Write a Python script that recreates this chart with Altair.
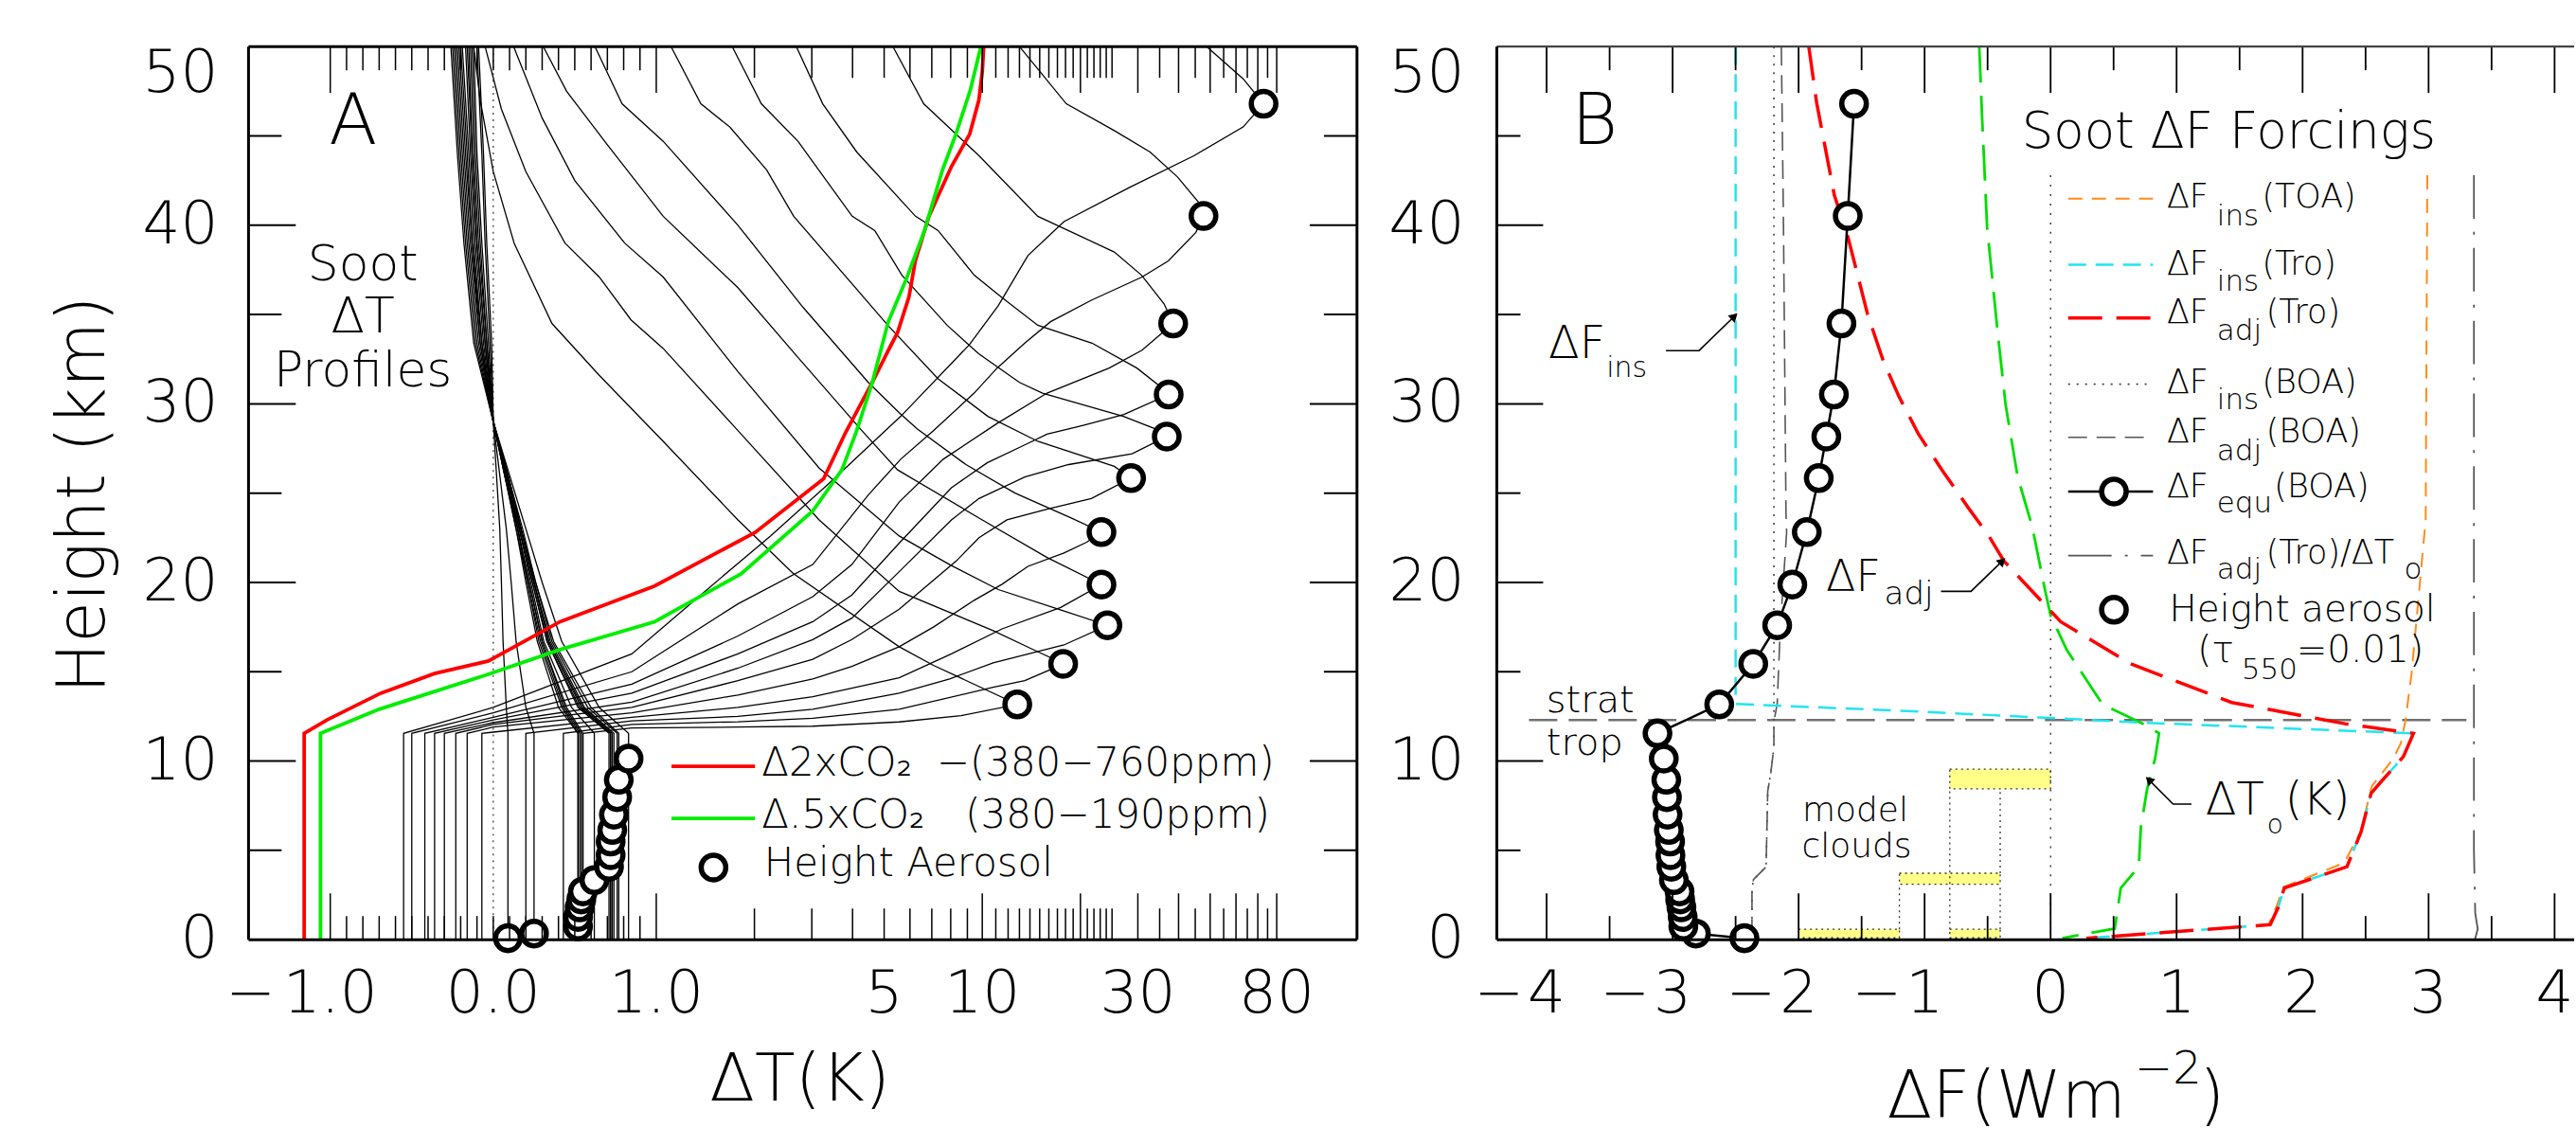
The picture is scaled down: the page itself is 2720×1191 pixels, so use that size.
import altair as alt
import pandas as pd

FONT = "DejaVu Sans"
FW = 200

# =============== Panel A : soot ΔT profiles (ΔT in K, height in km) ===============
# profiles for soot layers above the tropopause: (ΔT values, heights)
HIGH_PROFILES = {
    "46.8": ([-0.55, -0.55, 0, 0.85, 1.41, 2.24, 3.51, 5.62, 9.12, 11.2, 13.8, 17.8, 28.2, 44.7, 63.1, 72.9, 63.1, 48.8],
             [0, 11.55, 13.0, 16.0, 19.5, 22.6, 25.8, 29.3, 33.3, 35.5, 38.3, 40.2, 42.1, 43.9, 45.5, 46.8, 48.2, 50]),
    "40.5": ([-0.5, -0.5, 0, 0.85, 1.78, 3.02, 4.47, 5.62, 7.08, 9.44, 11.1, 13.5, 16.2, 21.6, 30.9, 37.2, 45.2, 47.7, 46.0, 39.7, 32.7, 25.4, 18.1, 13.0],
             [0, 11.55, 12.7, 15.0, 18.8, 21.0, 24.9, 26.9, 28.5, 30.6, 32.0, 33.4, 34.6, 35.8, 37.1, 38.0, 39.6, 40.52, 41.3, 42.7, 44.1, 45.3, 46.8, 50]),
    "34.5": ([-0.42, -0.42, 0, 0.85, 1.78, 3.02, 3.98, 5.56, 7.59, 11.1, 15.8, 24.5, 30.9, 38.5, 36.1, 30.8, 25.4, 14.8, 9.76, 6.61, 5.32],
             [0, 11.55, 12.45, 14.3, 17.0, 19.2, 21.0, 24.5, 26.9, 28.9, 30.6, 32.0, 33.0, 34.5, 35.6, 37.2, 38.5, 40.5, 43.9, 46.8, 50]),
    "30.5": ([-0.36, -0.36, 0, 0.85, 1.78, 3.02, 3.98, 5.56, 8.04, 10.35, 13.5, 15.8, 20.4, 27.2, 37.3, 36.1, 29.8, 21.7, 14.8, 11.4, 9.45, 7.32, 6.24, 4.12, 3.24, 2.69],
             [0, 11.55, 12.3, 13.8, 16.0, 17.8, 19.3, 22.2, 25.3, 26.7, 27.7, 28.3, 28.8, 29.4, 30.52, 30.8, 32.0, 33.4, 34.4, 36.0, 37.2, 39.7, 40.5, 44.1, 46.8, 50]),
    "28.2": ([-0.3, -0.3, 0, 0.85, 1.78, 3.02, 3.98, 5.56, 8.04, 9.77, 13.5, 18.4, 28.8, 36.8, 35.0, 27.1, 15.3, 13.0, 9.75, 7.8, 5.67, 4.68, 3.99, 2.72, 2.1, 1.71],
             [0, 11.55, 12.15, 13.3, 15.2, 16.8, 18.0, 20.6, 23.5, 24.7, 25.9, 26.6, 27.2, 28.17, 28.5, 29.3, 30.6, 31.2, 32.8, 34.4, 37.2, 39.7, 40.5, 44.7, 46.8, 50]),
    "25.8": ([-0.23, -0.23, 0, 0.85, 1.78, 3.02, 3.98, 5.56, 8.32, 9.77, 11.9, 15.8, 21.6, 28.6, 25.4, 14.8, 10.4, 7.32, 5.13, 2.64, 2.18, 1.68, 1.37, 1.11],
             [0, 11.55, 12.05, 13.0, 14.5, 15.7, 16.8, 18.5, 21.2, 22.5, 23.5, 24.1, 24.7, 25.84, 26.5, 27.9, 29.3, 31.4, 34.4, 40.5, 43.1, 45.5, 46.8, 50]),
    "22.8": ([-0.16, -0.16, 0, 0.85, 1.78, 3.02, 3.98, 5.56, 7.08, 9.44, 11.5, 13.8, 17.8, 20.9, 23.2, 18.8, 12.6, 8.91, 6.31, 5.56, 4.47, 2.82, 1.78, 1.05, 0.79, 0.624],
             [0, 11.55, 11.9, 12.7, 13.7, 14.6, 15.3, 16.4, 17.5, 19.0, 19.9, 20.9, 21.65, 22.25, 22.82, 23.6, 25.0, 26.6, 28.6, 29.5, 31.2, 35.4, 40.0, 44.7, 46.8, 50]),
    "19.9": ([-0.07, -0.07, 0, 0.85, 1.78, 3.02, 5.56, 8.04, 11.5, 17.4, 23.2, 15.8, 10, 5.5, 4.27, 2.72, 1.78, 1.05, 0.7, 0.45, 0.307],
             [0, 11.55, 11.62, 12.45, 13.0, 13.6, 14.66, 16.0, 17.4, 18.6, 19.88, 21.4, 23.5, 26.3, 28.5, 32.6, 36.5, 40.5, 44.5, 47.5, 50]),
    "17.6": ([0.2, 0.2, 0.85, 1.78, 3.02, 5.56, 7.94, 10.8, 17.8, 24.2, 17.8, 11.2, 7.94, 5.56, 3.16, 1.78, 1.05, 0.806, 0.5, 0.3, 0.125],
             [0, 11.55, 12.25, 12.5, 12.9, 13.8, 14.6, 15.5, 16.5, 17.6, 18.4, 19.6, 21.0, 22.6, 26.4, 31.8, 37.1, 39.0, 42.5, 46, 50]),
    "15.4": ([0.43, 0.43, 0.85, 1.78, 3.02, 5.56, 10.8, 13.5, 17.8, 14.1, 10.8, 5.56, 3.16, 1.78, 1.05, 0.845, 0.65, 0.44, 0.2, 0.05, -0.05],
             [0, 11.55, 12.05, 12.2, 12.4, 12.9, 14.13, 14.5, 15.44, 16.3, 17.3, 19.5, 23.5, 28.5, 33.1, 34.7, 37.1, 39, 43, 46.5, 50]),
    "13.2": ([0.55, 0.55, 0.85, 1.78, 3.02, 5.56, 8.61, 12.8, 7.08, 5.56, 2.63, 1.78, 1.05, 0.65, 0.36, 0.128, 0.0, -0.08, -0.12],
             [0, 11.55, 11.85, 11.9, 11.95, 12.19, 12.54, 13.17, 15.36, 16.4, 20.5, 23.5, 27.9, 31.6, 34.5, 39, 43, 47, 50]),
}

# profiles for soot layers inside the troposphere, all given at these heights
LOW_Z = [0, 11.55, 13.0, 16.7, 20.0, 23.0, 26.0, 29.0, 33.4, 39.0, 44.0, 50.0]
LOW_PROFILES = {
    "0.08": [0.09, 0.09, 0.08, 0.06, 0.05, 0.04, 0.02, 0.0, -0.01, -0.04, -0.06, -0.09],
    "0.34": [0.25, 0.25, 0.2, 0.14, 0.11, 0.08, 0.04, 0.0, -0.02, -0.05, -0.07, -0.1],
    "0.74": [0.52, 0.52, 0.4, 0.27, 0.2, 0.14, 0.07, 0.0, -0.03, -0.07, -0.1, -0.12],
    "1.27": [0.52, 0.52, 0.42, 0.28, 0.21, 0.14, 0.07, 0.0, -0.04, -0.08, -0.11, -0.13],
    "1.81": [0.53, 0.53, 0.43, 0.29, 0.21, 0.15, 0.07, 0.0, -0.04, -0.09, -0.12, -0.14],
    "2.25": [0.54, 0.54, 0.44, 0.3, 0.22, 0.15, 0.08, 0.0, -0.05, -0.1, -0.13, -0.15],
    "2.7": [0.55, 0.55, 0.45, 0.3, 0.22, 0.15, 0.08, 0.0, -0.05, -0.1, -0.13, -0.16],
    "3.33": [0.62, 0.62, 0.48, 0.31, 0.23, 0.16, 0.08, 0.0, -0.06, -0.11, -0.14, -0.17],
    "4.08": [0.71, 0.71, 0.52, 0.33, 0.24, 0.16, 0.08, 0.0, -0.07, -0.12, -0.15, -0.19],
    "4.73": [0.72, 0.72, 0.53, 0.33, 0.24, 0.16, 0.08, 0.0, -0.07, -0.13, -0.16, -0.2],
    "5.49": [0.72, 0.72, 0.54, 0.34, 0.25, 0.17, 0.09, 0.0, -0.08, -0.13, -0.17, -0.21],
    "6.14": [0.73, 0.73, 0.55, 0.34, 0.25, 0.17, 0.09, 0.0, -0.08, -0.14, -0.18, -0.22],
    "7.0": [0.74, 0.74, 0.56, 0.35, 0.25, 0.17, 0.09, 0.0, -0.09, -0.15, -0.19, -0.23],
    "7.98": [0.76, 0.76, 0.58, 0.36, 0.26, 0.17, 0.09, 0.0, -0.1, -0.16, -0.2, -0.24],
    "8.95": [0.77, 0.77, 0.6, 0.37, 0.26, 0.18, 0.09, 0.0, -0.11, -0.17, -0.21, -0.25],
    "10.14": [0.83, 0.83, 0.65, 0.42, 0.3, 0.2, 0.1, 0.0, -0.12, -0.18, -0.22, -0.26],
}

A_CIRCLE_Z = [0.08, 0.34, 0.74, 1.27, 1.81, 2.25, 2.7, 3.33, 4.08, 4.73, 5.49, 6.14, 7.0, 7.98, 8.95, 10.14,
              13.17, 15.44, 17.6, 19.88, 22.82, 25.84, 28.17, 30.52, 34.5, 40.52, 46.8]
A_CIRCLE_T = [0.09, 0.25, 0.52, 0.52, 0.53, 0.54, 0.55, 0.62, 0.71, 0.72, 0.72, 0.73, 0.74, 0.76, 0.77, 0.83,
              12.8, 17.7, 24.2, 23.2, 23.2, 28.6, 36.8, 37.3, 38.5, 47.7, 72.9]

CO2X2_T = [-1.16, -1.16, -1.02, -0.69, -0.36, -0.03, 0.41, 0.99, 2.01, 3.26, 3.81, 4.6, 5.15, 5.5, 5.96, 6.23, 6.86, 8.05, 9.15, 9.76, 10.0, 10.1]
CO2X2_Z = [0, 11.55, 12.3, 13.8, 14.9, 15.6, 17.8, 19.8, 22.8, 25.8, 28.4, 31.2, 33.0, 34.0, 36.0, 38.0, 40.5, 43.3, 45.1, 47.0, 48.6, 50]
CO2HALF_T = [-1.06, -1.06, -0.7, -0.04, 0.41, 0.99, 1.82, 3.02, 3.71, 4.1, 4.6, 5.15, 5.85, 6.65, 7.55, 8.3, 9.2, 9.9]
CO2HALF_Z = [0, 11.55, 12.9, 14.83, 16.24, 17.8, 20.48, 24.0, 26.3, 28.4, 31.2, 34.6, 37.0, 39.7, 43.1, 45.1, 47.6, 50]

A_TICK_LONG = [-1.0, 1.0, 10, 20, 30, 40, 50, 60, 70, 80]
A_TICK_MID = [2, 3, 4, 5, 6, 7, 8, 9, 11, 12, 13, 14, 15, 16, 17, 18, 19, 21, 22, 23, 24, 25, 35, 45, 55, 65, 75]
A_TICK_SHORT = [-0.9, -0.8, -0.7, -0.6, -0.5, -0.4, -0.3, -0.2, -0.1, 0.0, 0.1, 0.2, 0.3, 0.4, 0.5, 0.6, 0.7, 0.8, 0.9]
A_LABEL_T = [-1.0, 0.0, 1.0, 5, 10, 30, 80]
A_LABEL_TXT = ["1.0", "0.0", "1.0", "5", "10", "30", "80"]

Y_MAJOR = [10, 20, 30, 40]
Y_MINOR = [5, 15, 25, 35, 45]
Y_LABELS = [0, 10, 20, 30, 40]

# =============== Panel B : soot forcings (W/m2) vs aerosol height ===============
B_CIRCLE_Z = [0.08, 0.34, 0.74, 1.27, 1.81, 2.25, 2.7, 3.33, 4.08, 4.73, 5.49, 6.14, 7.0, 7.98, 8.95, 10.14,
              11.55, 13.17, 15.44, 17.6, 19.88, 22.82, 25.84, 28.17, 30.52, 34.5, 40.52, 46.8]
EQU_BOA_F = [-2.43, -2.815, -2.915, -2.92, -2.93, -2.94, -2.945, -2.99, -3.01, -3.017, -3.02, -3.03, -3.04, -3.045,
             -3.05, -3.07, -3.12, -2.63, -2.36, -2.17, -2.05, -1.935, -1.84, -1.78, -1.72, -1.66, -1.61, -1.56]

INS_TRO_F = [-2.5, -2.5, -1.145, 0.0, 0.733, 2.88, 2.80, 2.624, 2.544, 2.464, 2.352, 1.855, 1.807, 1.743, 0.284]
INS_TRO_Z = [50, 13.2, 12.8, 12.41, 12.15, 11.55, 10.25, 8.85, 8.2, 6.03, 4.08, 2.89, 1.81, 0.84, 0.08]
ADJ_TRO_F = [-1.919, -1.857, -1.717, -1.607, -1.452, -1.328, -1.203, -1.048, -0.862, -0.645, -0.495, -0.37, 0.08,
             0.637, 1.438, 2.336, 2.88, 2.80, 2.624, 2.544, 2.464, 2.352, 1.855, 1.807, 1.743, 0.284]
ADJ_TRO_Z = [50, 46.86, 41.7, 39.3, 35.0, 32.4, 30.4, 28.3, 26.3, 24.1, 22.66, 21.2, 17.8,
             15.44, 13.28, 12.09, 11.55, 10.25, 8.85, 8.2, 6.03, 4.08, 2.89, 1.81, 0.84, 0.08]
INS_TOA_F = [2.99, 2.977, 2.865, 2.817, 2.78, 2.72, 2.55, 2.46, 2.33, 1.85, 1.79, 1.73]
INS_TOA_Z = [42.8, 23.5, 14.9, 12.3, 11.0, 10.14, 8.6, 6.03, 4.3, 2.95, 1.81, 0.84]
DT0_K = [-0.566, -0.544, -0.504, -0.42, -0.357, -0.261, -0.145, -0.045, 0.0, 0.13, 0.413, 0.733, 0.861, 0.829,
         0.765, 0.716, 0.70, 0.557, 0.509, 0.092]
DT0_Z = [50, 46.1, 39.9, 34.0, 29.95, 25.9, 23.1, 19.6, 18.15, 16.2, 13.17, 12.09, 11.55, 10.14,
         8.4, 6.25, 4.08, 2.89, 0.62, 0.08]
INS_BOA_F = [-2.196, -2.196, -2.196, -2.22, -2.245, -2.258, -2.358, -2.37, -2.37]
INS_BOA_Z = [50, 13.2, 10.78, 9.37, 8.3, 4.07, 3.37, 2.84, 0.2]
ADJ_BOA_F = [-2.137, -2.12, -2.1, -2.095, -2.145, -2.17, -2.196, -2.196, -2.22, -2.245, -2.258, -2.358, -2.37, -2.37]
ADJ_BOA_Z = [50, 40, 23.9, 22.8, 17.5, 13.2, 12.2, 10.78, 9.37, 8.3, 4.07, 3.37, 2.84, 0.2]
RATIO_F = [3.36, 3.36, 3.37, 3.39, 3.37]
RATIO_Z = [42.8, 5.0, 1.5, 0.6, 0.05]

CLOUD_X1 = [-2.0, -0.8, -1.2, -0.8]
CLOUD_X2 = [-1.2, -0.4, -0.4, 0.0]
CLOUD_Z1 = [0.1, 0.1, 3.1, 8.45]
CLOUD_Z2 = [0.58, 0.58, 3.72, 9.54]
CLOUD_EDGE_F = [-1.2, -0.8, -0.4, -0.4]
CLOUD_EDGE_Z1 = [0.58, 0.58, 0.58, 3.72]
CLOUD_EDGE_Z2 = [3.1, 8.45, 3.1, 8.45]

TROPOPAUSE_Z = 12.3
B_TICK_LONG = [-4, -3, -2, -1, 0, 1, 2, 3, 4]
B_TICK_SHORT = [-3.5, -2.5, -1.5, -0.5, 0.5, 1.5, 2.5, 3.5]
B_LABEL_F = [-4, -3, -2, -1, 0, 1, 2, 3, 4]
B_LABEL_TXT = ["4", "3", "2", "1", "0", "1", "2", "3", "4"]

# ---------------- geometry ----------------
WA, HA = 1173, 945
UA0, UA1 = -1.5014, 5.2986
WB, HB = 1140, 945
FB0, FB1 = -4.395, 4.155
UEXPR = "datum.T <= 1 ? datum.T : 1 + 2 * log(datum.T) / LN10"
ONE = pd.DataFrame({"d": [0]})
RING = dict(shape="circle", filled=True, fill="white", stroke="black", strokeWidth=5.5, size=680, opacity=1)


def XA():
    return alt.X("u:Q", scale=alt.Scale(domain=[UA0, UA1], nice=False, zero=False), axis=None)


def XB():
    return alt.X("F:Q", scale=alt.Scale(domain=[FB0, FB1], nice=False, zero=False), axis=None)


def YZ():
    return alt.Y("z:Q", scale=alt.Scale(domain=[0, 50], nice=False, zero=False), axis=None)


def ptext(px, py, s, size, align="left", baseline="alphabetic", angle=None, color="black"):
    kw = dict(font=FONT, fontWeight=FW, fontSize=size, align=align, baseline=baseline, color=color, text=s)
    if angle is not None:
        kw["angle"] = angle
    return alt.Chart(ONE).mark_text(**kw).encode(x=alt.value(px), y=alt.value(py))


def prule(x1, x2, y1, y2, color="black", width=3, dash=None):
    kw = dict(color=color, strokeWidth=width)
    if dash:
        kw["strokeDash"] = dash
    return alt.Chart(ONE).mark_rule(**kw).encode(
        x=alt.value(x1), x2=alt.value(x2), y=alt.value(y1), y2=alt.value(y2))


def ring(px, py):
    return alt.Chart(ONE).mark_point(**RING).encode(x=alt.value(px), y=alt.value(py))


# ================= build panel A =================
rows = []
for name, (tt, zz) in HIGH_PROFILES.items():
    for i, (t, z) in enumerate(zip(tt, zz)):
        rows.append((name, i, t, z))
for name, tt in LOW_PROFILES.items():
    for i, (t, z) in enumerate(zip(tt, LOW_Z)):
        rows.append(("L" + name, i, t, z))
df_prof = pd.DataFrame(rows, columns=["pid", "i", "T", "z"])

layersA = []
layersA.append(alt.Chart(pd.DataFrame({"u": [0.0]})).mark_rule(
    color="#333333", strokeWidth=1.2, strokeDash=[2, 5]).encode(x=XA()))
layersA.append(alt.Chart(df_prof).transform_calculate(u=UEXPR).mark_line(
    color="black", strokeWidth=1.3).encode(x=XA(), y=YZ(), detail="pid:N", order="i:Q"))
for tt, zz, col in [(CO2X2_T, CO2X2_Z, "#ff0000"), (CO2HALF_T, CO2HALF_Z, "#00ee00")]:
    d = pd.DataFrame({"T": tt, "z": zz, "i": list(range(len(tt)))})
    layersA.append(alt.Chart(d).transform_calculate(u=UEXPR).mark_line(
        color=col, strokeWidth=3.8).encode(x=XA(), y=YZ(), order="i:Q"))
layersA.append(alt.Chart(pd.DataFrame({"T": A_CIRCLE_T, "z": A_CIRCLE_Z})).transform_calculate(u=UEXPR)
               .mark_point(**RING).encode(x=XA(), y=YZ()))

# inward ticks
for vals, ln in [(A_TICK_LONG, 49), (A_TICK_MID, 33), (A_TICK_SHORT, 25)]:
    d = pd.DataFrame({"T": vals})
    layersA.append(alt.Chart(d).transform_calculate(u=UEXPR).mark_rule(color="black", strokeWidth=1.5)
                   .encode(x=XA(), y=alt.value(HA), y2=alt.value(HA - ln)))
    layersA.append(alt.Chart(d).transform_calculate(u=UEXPR).mark_rule(color="black", strokeWidth=1.5)
                   .encode(x=XA(), y=alt.value(0), y2=alt.value(ln)))
for vals, ln in [(Y_MAJOR, 50), (Y_MINOR, 35)]:
    d = pd.DataFrame({"z": vals})
    layersA.append(alt.Chart(d).mark_rule(color="black", strokeWidth=2)
                   .encode(y=YZ(), x=alt.value(0), x2=alt.value(ln)))
    layersA.append(alt.Chart(d).mark_rule(color="black", strokeWidth=2)
                   .encode(y=YZ(), x=alt.value(WA), x2=alt.value(WA - ln)))
# frame
layersA += [prule(0, WA, 0, 0), prule(0, WA, HA, HA), prule(0, 0, 0, HA), prule(WA, WA, 0, HA)]

# tick labels
layersA.append(alt.Chart(pd.DataFrame({"T": A_LABEL_T, "t": A_LABEL_TXT})).transform_calculate(u=UEXPR)
               .mark_text(font=FONT, fontWeight=FW, fontSize=63, align="center", baseline="top")
               .encode(x=XA(), y=alt.value(HA + 27), text="t:N"))
layersA.append(alt.Chart(pd.DataFrame({"T": [-1.0], "t": ["−"]})).transform_calculate(u=UEXPR)
               .mark_text(font=FONT, fontWeight=FW, fontSize=63, align="right", baseline="top", dx=-58)
               .encode(x=XA(), y=alt.value(HA + 27), text="t:N"))
layersA.append(alt.Chart(pd.DataFrame({"z": Y_LABELS, "t": [str(v) for v in Y_LABELS]}))
               .mark_text(font=FONT, fontWeight=FW, fontSize=63, align="right", baseline="middle")
               .encode(y=YZ(), x=alt.value(-32), text="t:N"))
layersA.append(ptext(-32, -2, "50", 63, align="right", baseline="top"))

# titles and annotations
layersA += [
    ptext(488, 1115, "ΔT(K)", 70),
    ptext(-153, 474, "Height (km)", 71, align="center", angle=270),
    ptext(85, 103, "A", 75),
    ptext(121, 247, "Soot", 52, align="center"),
    ptext(121, 302, "ΔT", 52, align="center"),
    ptext(121, 360, "Profiles", 52, align="center"),
    # legend
    prule(447.6, 536, 761.5, 761.5, color="#ff0000", width=3.8),
    prule(447.6, 536, 816.7, 816.7, color="#00ee00", width=3.8),
    ring(492, 868.6),
    ptext(543, 771.7, "Δ2xCO₂", 42), ptext(728, 771.7, "−(380−760ppm)", 42),
    ptext(543, 826.9, "Δ.5xCO₂", 42), ptext(758.5, 826.9, "(380−190ppm)", 42),
    ptext(545.6, 878, "Height Aerosol", 42),
]
chartA = alt.layer(*layersA).properties(width=WA, height=HA)

# ================= build panel B =================
def fline(ff, zz, color, width, dash=None):
    d = pd.DataFrame({"F": ff, "z": zz, "i": list(range(len(ff)))})
    kw = dict(color=color, strokeWidth=width)
    if dash:
        kw["strokeDash"] = dash
    return alt.Chart(d).mark_line(**kw).encode(x=XB(), y=YZ(), order="i:Q")


layersB = []
layersB.append(alt.Chart(pd.DataFrame({"x1": CLOUD_X1, "x2": CLOUD_X2, "z1": CLOUD_Z1, "z2": CLOUD_Z2}))
               .mark_rect(fill="#ffff88", stroke="#333333", strokeWidth=1.3, strokeDash=[2, 4])
               .encode(x=alt.X("x1:Q", scale=alt.Scale(domain=[FB0, FB1], nice=False, zero=False), axis=None),
                       x2="x2:Q", y=alt.Y("z1:Q", scale=alt.Scale(domain=[0, 50], nice=False, zero=False), axis=None),
                       y2="z2:Q"))
layersB.append(alt.Chart(pd.DataFrame({"F": CLOUD_EDGE_F, "z": CLOUD_EDGE_Z1, "z2": CLOUD_EDGE_Z2}))
               .mark_rule(color="#333333", strokeWidth=1.3, strokeDash=[2, 4])
               .encode(x=XB(), y=YZ(), y2="z2:Q"))
layersB.append(fline([0, 0], [42.8, 0], "#333333", 1.4, [2, 8]))
layersB.append(alt.Chart(pd.DataFrame({"z": [TROPOPAUSE_Z], "F": [-4.14], "F2": [3.30]}))
               .mark_rule(color="#707070", strokeWidth=2.5, strokeDash=[30, 12])
               .encode(x=XB(), x2="F2:Q", y=YZ()))
layersB += [
    fline(INS_BOA_F, INS_BOA_Z, "#444444", 1.6, [2, 7]),
    fline(ADJ_BOA_F, ADJ_BOA_Z, "#555555", 1.6, [20, 10]),
    fline(RATIO_F, RATIO_Z, "#555555", 1.8, [46, 14, 3, 14]),
    fline(DT0_K, DT0_Z, "#00dd00", 2.8, [38, 14]),
    fline(INS_TOA_F, INS_TOA_Z, "#ff8c1a", 2.0, [15, 10]),
    fline(INS_TRO_F, INS_TRO_Z, "#22e5ee", 2.5, [19, 10]),
    fline(ADJ_TRO_F, ADJ_TRO_Z, "#ff0000", 3.5, [36, 15]),
    fline(EQU_BOA_F, B_CIRCLE_Z, "black", 2.5),
]
layersB.append(alt.Chart(pd.DataFrame({"F": EQU_BOA_F, "z": B_CIRCLE_Z}))
               .mark_point(**RING).encode(x=XB(), y=YZ()))

# arrows (data coordinates of the annotation leaders)
ARROWS = [([-3.053, -2.79, -2.51], [32.98, 32.98, 34.9], 46),
          ([-0.87, -0.632, -0.383], [19.5, 19.5, 21.2], 46),
          ([1.118, 0.973, 0.78], [7.59, 7.59, 8.95], 315)]
for ff, zz, ang in ARROWS:
    layersB.append(fline(ff, zz, "black", 1.6))
    layersB.append(alt.Chart(pd.DataFrame({"F": [ff[-1]], "z": [zz[-1]]}))
                   .mark_point(shape="triangle-up", filled=True, color="black", size=110, angle=ang, opacity=1)
                   .encode(x=XB(), y=YZ()))

# ticks
for vals, ln in [(B_TICK_LONG, 49), (B_TICK_SHORT, 25)]:
    d = pd.DataFrame({"F": vals})
    layersB.append(alt.Chart(d).mark_rule(color="black", strokeWidth=1.8)
                   .encode(x=XB(), y=alt.value(HB), y2=alt.value(HB - ln)))
    layersB.append(alt.Chart(d).mark_rule(color="black", strokeWidth=1.8)
                   .encode(x=XB(), y=alt.value(0), y2=alt.value(ln)))
for vals, ln in [(Y_MAJOR, 49), (Y_MINOR, 25)]:
    d = pd.DataFrame({"z": vals})
    layersB.append(alt.Chart(d).mark_rule(color="black", strokeWidth=2)
                   .encode(y=YZ(), x=alt.value(0), x2=alt.value(ln)))
layersB += [prule(0, WB, 0, 0, color="#444444", width=2.2), prule(0, WB, HB, HB), prule(0, 0, 0, HB)]

layersB.append(alt.Chart(pd.DataFrame({"F": B_LABEL_F, "t": B_LABEL_TXT}))
               .mark_text(font=FONT, fontWeight=FW, fontSize=63, align="center", baseline="top")
               .encode(x=XB(), y=alt.value(HB + 27), text="t:N"))
layersB.append(alt.Chart(pd.DataFrame({"F": [-4, -3, -2, -1], "t": ["−"] * 4}))
               .mark_text(font=FONT, fontWeight=FW, fontSize=63, align="right", baseline="top", dx=-24)
               .encode(x=XB(), y=alt.value(HB + 27), text="t:N"))
layersB.append(alt.Chart(pd.DataFrame({"z": Y_LABELS, "t": [str(v) for v in Y_LABELS]}))
               .mark_text(font=FONT, fontWeight=FW, fontSize=63, align="right", baseline="middle")
               .encode(y=YZ(), x=alt.value(-34), text="t:N"))
layersB.append(ptext(-34, -2, "50", 63, align="right", baseline="top"))

LEG_X1, LEG_X2 = 604.6, 694.4
layersB += [
    ptext(413, 1133.5, "ΔF(Wm", 70), ptext(675, 1097, "−2", 48), ptext(743, 1133.5, ")", 70),
    ptext(79, 103, "B", 75),
    ptext(555.5, 107.3, "Soot ΔF Forcings", 53),
    # legend samples
    prule(LEG_X1, LEG_X2, 160.8, 160.8, color="#ff8c1a", width=2.0, dash=[15, 10]),
    prule(LEG_X1, LEG_X2, 230.9, 230.9, color="#22e5ee", width=2.5, dash=[19, 10]),
    prule(LEG_X1, LEG_X2, 287.1, 287.1, color="#ff0000", width=3.5, dash=[36, 15]),
    prule(LEG_X1, LEG_X2, 357.2, 357.2, color="#444444", width=1.6, dash=[2, 7]),
    prule(LEG_X1, LEG_X2, 413.4, 413.4, color="#555555", width=1.6, dash=[20, 10]),
    prule(LEG_X1, LEG_X2, 470.8, 470.8, color="black", width=2.5),
    ring(653, 470.8),
    prule(LEG_X1, LEG_X2, 538.7, 538.7, color="#555555", width=1.8, dash=[46, 14, 3, 14]),
    ring(653, 595.9),
    # legend labels
    ptext(709, 170.4, "ΔF", 35), ptext(762, 189, "ins", 31), ptext(809.7, 170.4, "(TOA)", 35),
    ptext(709, 241.2, "ΔF", 35), ptext(762, 258, "ins", 31), ptext(809.7, 241.2, "(Tro)", 35),
    ptext(709, 292.9, "ΔF", 35), ptext(762, 310, "adj", 31), ptext(814, 292.9, "(Tro)", 35),
    ptext(709, 366.7, "ΔF", 35), ptext(762, 384, "ins", 31), ptext(809.7, 366.7, "(BOA)", 35),
    ptext(709, 419.2, "ΔF", 35), ptext(762, 438, "adj", 31), ptext(814, 419.2, "(BOA)", 35),
    ptext(709, 476.6, "ΔF", 35), ptext(762, 493, "equ", 31), ptext(822.6, 476.6, "(BOA)", 35),
    ptext(709, 546.8, "ΔF", 35), ptext(762, 563, "adj", 31), ptext(814, 546.8, "(Tro)/ΔT", 35),
    ptext(960, 563, "o", 31),
    ptext(711.5, 608.2, "Height aerosol", 39),
    ptext(741.4, 651, "(τ", 39), ptext(788, 669, "550", 31), ptext(846, 651, "=0.01)", 39),
    # annotations
    ptext(54.5, 329.2, "ΔF", 48), ptext(116, 350, "ins", 30),
    ptext(348.3, 576.3, "ΔF", 46), ptext(410, 590, "adj", 34),
    ptext(750, 812.6, "ΔT", 48), ptext(815, 833, "o", 28), ptext(834, 812.6, "(K)", 48),
    ptext(52.4, 704.2, "strat", 40), ptext(52.4, 749.2, "trop", 40),
    ptext(323.3, 820, "model", 36), ptext(322.7, 858, "clouds", 36),
]
chartB = alt.layer(*layersB).properties(width=WB, height=HB)

chart = (alt.hconcat(chartA, chartB, spacing=31)
         .resolve_scale(x="independent", y="independent")
         .configure_view(stroke=None)
         .properties(padding={"left": 53, "top": 40, "right": 0, "bottom": 0}, background="white"))

chart.save("out.html", embed_options={"renderer": "svg", "actions": False})
